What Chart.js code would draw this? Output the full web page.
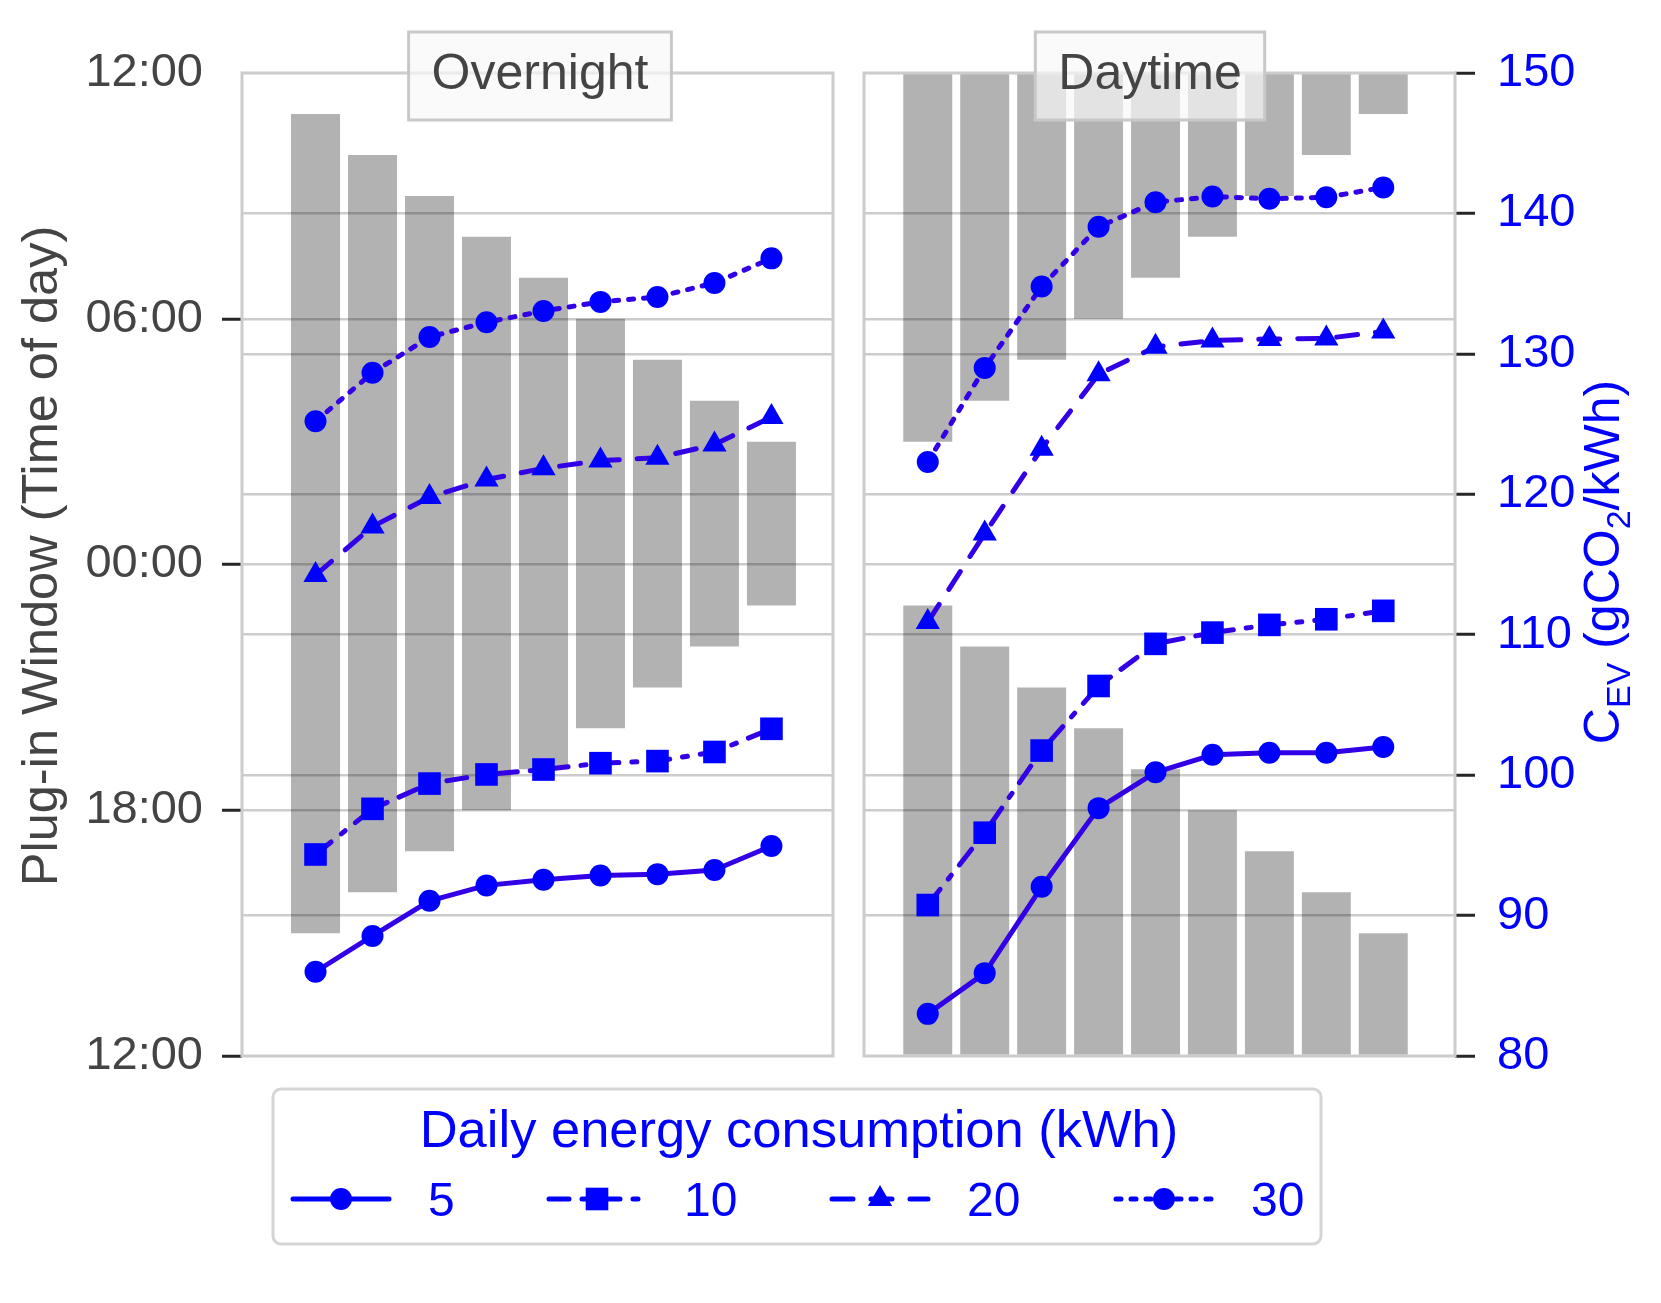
<!DOCTYPE html>
<html>
<head>
<meta charset="utf-8">
<title>Plug-in window vs. charging carbon intensity</title>
<script src="https://cdn.jsdelivr.net/npm/chart.js@4.4.1/dist/chart.umd.min.js"></script>
<style>
  html, body { margin: 0; padding: 0; background: #ffffff; }
  #wrap { position: relative; width: 1661px; height: 1303px; background: #ffffff; }
  #wrap canvas { position: absolute; left: 0; top: 0; }
</style>
</head>
<body>
<div id="wrap">
  <canvas id="overnightChart" width="1661" height="1303"></canvas>
  <canvas id="daytimeChart" width="1661" height="1303"></canvas>
</div>
<script>
// ---- data ----
const sessionIndex = [0, 1, 2, 3, 4, 5, 6, 7, 8];
const energyLevels = ['5', '10', '20', '30'];           // Daily energy consumption (kWh)
const timeTickLabels = ['12:00', '18:00', '00:00', '06:00', '12:00'];
const carbonTicks = [80, 90, 100, 110, 120, 130, 140, 150];

// plug-in windows, clock hours
const overnightPlugIn  = [15, 16, 17, 18, 19, 20, 21, 22, 23];
const overnightPlugOut = [11, 10, 9, 8, 7, 6, 5, 4, 3];
const daytimePlugIn    = [3, 4, 5, 6, 7, 8, 9, 10, 11];
const daytimePlugOut   = [23, 22, 21, 20, 19, 18, 17, 16, 15];

// C_EV (gCO2/kWh) per daily energy level
const overnight5  = [86.0, 88.55, 91.05, 92.15, 92.55, 92.85, 92.95, 93.25, 94.95];
const overnight10 = [94.35, 97.6, 99.4, 100.05, 100.4, 100.85, 101.0, 101.65, 103.3];
const overnight20 = [114.25, 117.7, 119.8, 121.05, 121.85, 122.4, 122.6, 123.55, 125.5];
const overnight30 = [125.2, 128.65, 131.2, 132.25, 133.05, 133.7, 134.05, 135.05, 136.8];
const daytime5  = [83.0, 85.9, 92.05, 97.65, 100.2, 101.45, 101.6, 101.6, 102.0];
const daytime10 = [90.75, 95.9, 101.75, 106.35, 109.35, 110.15, 110.7, 111.1, 111.7];
const daytime20 = [110.9, 117.2, 123.25, 128.55, 130.5, 130.95, 131.05, 131.1, 131.6];
const daytime30 = [122.3, 129.0, 134.8, 139.05, 140.8, 141.2, 141.05, 141.15, 141.85];

// ---- styling ----
const FONT = "'Liberation Sans', Arial, Helvetica, sans-serif";
const GREY_TEXT = '#444444';
const MARKER_BLUE = '#0000ff';
const LINE_BLUE = '#3200e6';
const GRID = '#cccccc';
const CLEAR = 'rgba(0,0,0,0)';

Chart.defaults.font.family = FONT;

const seriesLook = [
    { dash: [], pointStyle: 'circle', radius: 11 },
    { dash: [20, 13, 5, 13], pointStyle: 'rect', radius: 16 },
    { dash: [21, 18], pointStyle: 'triangle', radius: 14 },
    { dash: [5, 10], pointStyle: 'circle', radius: 11 }
];

// axis runs noon -> noon, so clock hour 12 is 0 and next noon is 24
function toAxisHours(clock) {
    return (clock - 12 + 24) % 24;
}

// a window that crosses the noon edge is split into a top and a bottom piece
function windowBars(plugIn, plugOut) {
    const pieces = [[], []];
    plugIn.forEach((start, i) => {
        const s = toAxisHours(start);
        const e = toAxisHours(plugOut[i]);
        if (s < e) {
            pieces[0].push({ x: sessionIndex[i], y: [s, e] });
        } else {
            pieces[0].push({ x: sessionIndex[i], y: [s, 24] });
            pieces[1].push({ x: sessionIndex[i], y: [0, e] });
        }
    });
    return pieces.filter(p => p.length);
}

/**
 * Frame + boxed panel title
 */
const panelDecor = {
    id: 'panelDecor',
    afterDatasetsDraw(chart, args, o) {
        const { ctx, chartArea: a } = chart;
        ctx.save();
        ctx.strokeStyle = GRID;
        ctx.lineWidth = 3;
        ctx.strokeRect(a.left, a.top, a.right - a.left, a.bottom - a.top);

        ctx.font = '50px ' + FONT;
        const w = ctx.measureText(o.title).width + 46;
        ctx.fillStyle = 'rgba(248,248,248,0.7)';
        ctx.fillRect(o.centerX - w / 2, 32, w, 88);
        ctx.strokeStyle = '#c8c8c8';
        ctx.strokeRect(o.centerX - w / 2, 32, w, 88);
        ctx.fillStyle = GREY_TEXT;
        ctx.textAlign = 'center';
        ctx.textBaseline = 'alphabetic';
        ctx.fillText(o.title, o.centerX, 89);
        ctx.restore();
    }
};

function drawMarker(ctx, look, x, y) {
    if (Chart.helpers && Chart.helpers.drawPoint) {
        Chart.helpers.drawPoint(ctx, { pointStyle: look.pointStyle, radius: look.radius, rotation: 0, borderWidth: 0 }, x, y);
        return;
    }
    ctx.beginPath();
    ctx.arc(x, y, look.radius, 0, Math.PI * 2);
    ctx.fill();
}

/**
 * Left axis title (drawn by hand so it sits where the original does)
 */
const timeTitle = {
    id: 'timeTitle',
    afterDraw(chart) {
        const { ctx } = chart;
        ctx.save();
        ctx.translate(43, 556);
        ctx.rotate(-Math.PI / 2);
        ctx.fillStyle = GREY_TEXT;
        ctx.font = '50.5px ' + FONT;
        ctx.textAlign = 'center';
        ctx.textBaseline = 'middle';
        ctx.fillText('Plug-in Window (Time of day)', 0, 0);
        ctx.restore();
    }
};

/**
 * Legend box below both panels
 */
const energyLegend = {
    id: 'energyLegend',
    afterDraw(chart, args, o) {
        const { ctx } = chart;
        ctx.save();
        ctx.beginPath();
        if (ctx.roundRect) ctx.roundRect(273, 1089, 1048, 155, 8);
        else ctx.rect(273, 1089, 1048, 155);
        ctx.fillStyle = '#ffffff';
        ctx.fill();
        ctx.strokeStyle = '#d5d5d5';
        ctx.lineWidth = 3;
        ctx.stroke();

        ctx.fillStyle = MARKER_BLUE;
        ctx.textAlign = 'center';
        ctx.textBaseline = 'alphabetic';
        ctx.font = '52.5px ' + FONT;
        ctx.fillText('Daily energy consumption (kWh)', 799, 1147);

        const y = 1199;
        energyLevels.forEach((label, k) => {
            const look = seriesLook[k];
            const x0 = o.columns[k];
            ctx.strokeStyle = MARKER_BLUE;
            ctx.lineWidth = 5;
            ctx.lineCap = 'round';
            ctx.setLineDash(look.dash);
            ctx.beginPath();
            ctx.moveTo(x0 + 2, y);
            ctx.lineTo(x0 + 98, y);
            ctx.stroke();
            ctx.setLineDash([]);
            ctx.fillStyle = MARKER_BLUE;
            drawMarker(ctx, look, x0 + 50, y);
            ctx.textAlign = 'left';
            ctx.font = '48px ' + FONT;
            ctx.fillText(label, x0 + 137, 1216);
        });
        ctx.restore();
    }
};

/**
 * Right axis title with subscripts: C_EV (gCO_2/kWh)
 */
const carbonTitle = {
    id: 'carbonTitle',
    afterDraw(chart) {
        const { ctx } = chart;
        const runs = [['C', 50, 0], ['EV', 34, 11], [' (gCO', 50, 0], ['2', 34, 11], ['/kWh)', 50, 0]];
        ctx.save();
        ctx.translate(1619, 562);
        ctx.rotate(-Math.PI / 2);
        ctx.fillStyle = MARKER_BLUE;
        ctx.textAlign = 'left';
        ctx.textBaseline = 'alphabetic';
        let total = 0;
        runs.forEach(r => { ctx.font = r[1] + 'px ' + FONT; total += ctx.measureText(r[0]).width; });
        let x = -total / 2;
        runs.forEach(r => {
            ctx.font = r[1] + 'px ' + FONT;
            ctx.fillText(r[0], x, r[2]);
            x += ctx.measureText(r[0]).width;
        });
        ctx.restore();
    }
};

function buildPanel(canvasId, cfg) {
    const datasets = [];
    cfg.bars.forEach(piece => {
        datasets.push({
            type: 'bar',
            data: piece,
            yAxisID: 'yt',
            backgroundColor: 'rgba(0,0,0,0.3)',
            borderWidth: 0,
            grouped: false,
            categoryPercentage: 1,
            barPercentage: 0.86,
            order: 10
        });
    });
    cfg.lines.forEach((values, k) => {
        const look = seriesLook[k];
        datasets.push({
            type: 'line',
            label: energyLevels[k],
            data: sessionIndex.map((x, i) => ({ x: x, y: values[i] })),
            yAxisID: 'yc',
            borderColor: LINE_BLUE,
            borderWidth: 5,
            borderDash: look.dash,
            borderCapStyle: 'round',
            borderJoinStyle: 'round',
            tension: 0,
            fill: false,
            pointStyle: look.pointStyle,
            pointRadius: look.radius,
            pointBackgroundColor: MARKER_BLUE,
            pointBorderWidth: 0,
            order: 0
        });
    });

    return new Chart(document.getElementById(canvasId), {
        type: 'bar',
        data: { datasets: datasets },
        options: {
            responsive: false,
            devicePixelRatio: 1,
            animation: false,
            events: [],
            layout: { padding: cfg.padding },
            scales: {
                x: {
                    type: 'linear',
                    min: cfg.xMin,
                    max: cfg.xMax,
                    display: false,
                    offset: false,
                    grid: { offset: false }
                },
                yt: {
                    type: 'linear',
                    position: 'left',
                    min: 0,
                    max: 24,
                    border: { display: false },
                    ticks: {
                        stepSize: 6,
                        display: cfg.showTime,
                        padding: 19,
                        color: GREY_TEXT,
                        font: { size: 47 },
                        callback: v => timeTickLabels[v / 6]
                    },
                    grid: {
                        color: c => (c.tick && (c.tick.value === 0 || c.tick.value === 24)) ? CLEAR : GRID,
                        lineWidth: 2.5,
                        drawTicks: cfg.showTime,
                        tickLength: 20,
                        tickWidth: 3,
                        tickColor: c => (c.tick && c.tick.value === 24) ? CLEAR : '#262626'
                    },
                    afterFit: s => { s.width = cfg.showTime ? 242 : 0; }
                },
                yc: {
                    type: 'linear',
                    position: 'right',
                    min: carbonTicks[0],
                    max: carbonTicks[carbonTicks.length - 1],
                    border: { display: false },
                    ticks: {
                        stepSize: 10,
                        display: cfg.showCarbon,
                        padding: 22,
                        color: MARKER_BLUE,
                        font: { size: 47 }
                    },
                    grid: {
                        color: c => (c.tick && (c.tick.value === 80 || c.tick.value === 150)) ? CLEAR : GRID,
                        lineWidth: 2.5,
                        drawTicks: cfg.showCarbon,
                        tickLength: 20,
                        tickWidth: 3,
                        tickColor: '#262626'
                    },
                    afterFit: s => { s.width = cfg.showCarbon ? 206 : 0; }
                }
            },
            plugins: {
                legend: { display: false },
                tooltip: { enabled: false },
                panelDecor: { title: cfg.title, centerX: cfg.titleX },
                energyLegend: { columns: [291, 547, 830, 1114] }
            }
        },
        plugins: cfg.extraPlugins
    });
}

buildPanel('overnightChart', {
    title: 'Overnight',
    titleX: 540,
    bars: windowBars(overnightPlugIn, overnightPlugOut),
    lines: [overnight5, overnight10, overnight20, overnight30],
    xMin: -1.29,
    xMax: 9.08,
    showTime: true,
    showCarbon: false,
    padding: { left: 0, top: 73, right: 828, bottom: 247 },
    extraPlugins: [panelDecor, timeTitle, energyLegend]
});

buildPanel('daytimeChart', {
    title: 'Daytime',
    titleX: 1150,
    bars: windowBars(daytimePlugIn, daytimePlugOut),
    lines: [daytime5, daytime10, daytime20, daytime30],
    xMin: -1.12,
    xMax: 9.26,
    showTime: false,
    showCarbon: true,
    padding: { left: 864, top: 73, right: 0, bottom: 247 },
    extraPlugins: [panelDecor, carbonTitle]
});
</script>
</body>
</html>
